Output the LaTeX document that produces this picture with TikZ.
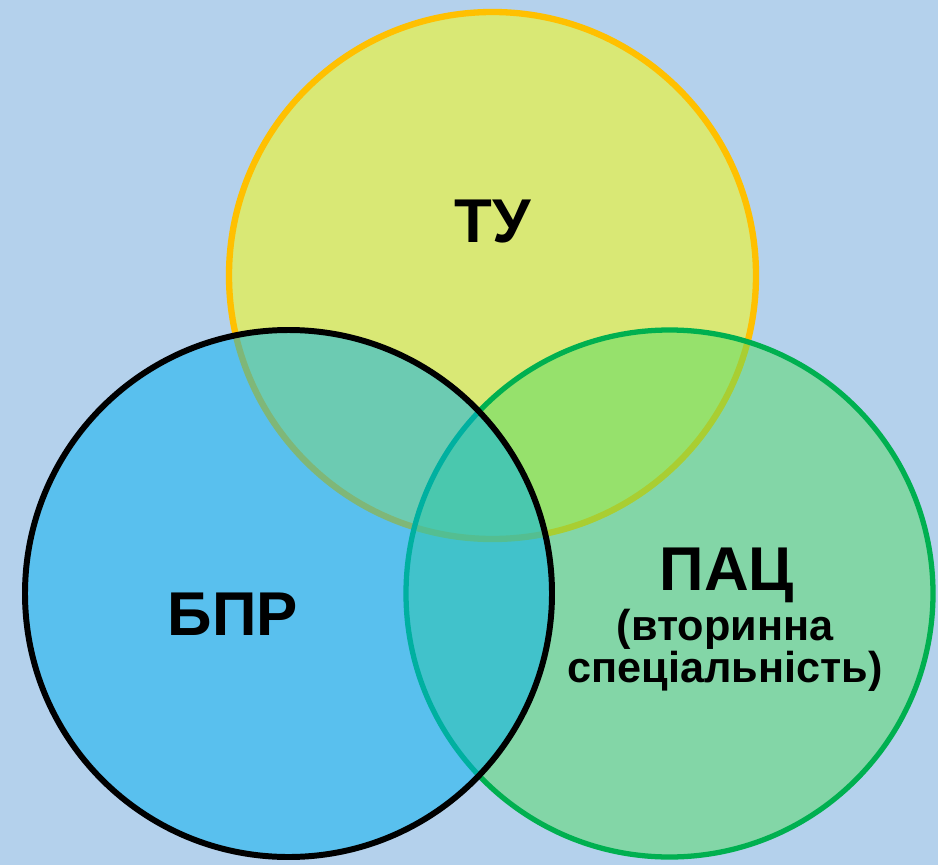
\documentclass[tikz,border=0pt]{standalone}
\usepackage{fontspec}
\setmainfont{Liberation Sans}
\definecolor{bgblue}{RGB}{180,209,236}
\definecolor{tufill}{RGB}{255,255,0}
\definecolor{tuline}{RGB}{255,192,0}
\definecolor{pacfill}{RGB}{84,220,100}
\definecolor{pacline}{RGB}{0,176,80}
\definecolor{bprfill}{RGB}{0,176,240}
\tikzset{
  venn/.style={fill opacity=0.5, draw opacity=1},
  bigtext/.style={font=\fontsize{17.6}{20}\selectfont\bfseries, anchor=base, inner sep=0pt},
  smalltext/.style={font=\fontsize{12.3}{12}\selectfont\bfseries, anchor=base, inner sep=0pt}
}
\begin{document}
\begin{tikzpicture}
  \useasboundingbox (0,0) rectangle (9.38,8.65);
  \fill[bgblue] (0,0) rectangle (9.38,8.65);
  % circles
  \draw[venn, fill=tufill, draw=tuline, line width=1.8pt] (4.925,5.895) circle (2.635);
  \draw[venn, fill=pacfill, draw=pacline, line width=1.5pt] (6.695,2.715) circle (2.635);
  \draw[venn, fill=bprfill, draw=black, line width=1.7pt] (2.885,2.715) circle (2.635);
  % labels
  \node[bigtext] (tu) at (4.93,6.23) {ТУ};
  \node[bigtext] (bpr) at (2.33,2.30) {БПР};
  \node[bigtext] (pac) at (7.27,2.75) {ПАЦ};
  \node[smalltext] (pacone) at (7.25,2.25) {(вторинна};
  \node[smalltext] (pactwo) at (7.25,1.83) {спеціальність)};
\end{tikzpicture}
\end{document}
